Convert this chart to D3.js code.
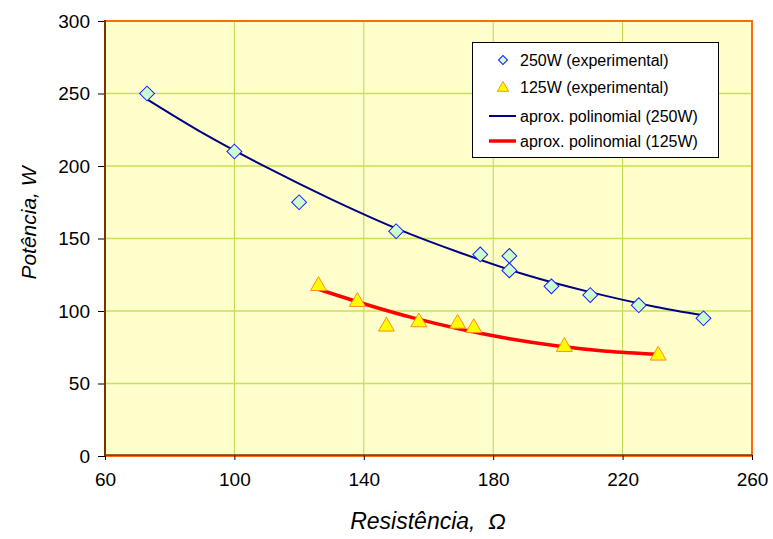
<!DOCTYPE html>
<html>
<head>
<meta charset="utf-8">
<script src="https://cdn.jsdelivr.net/npm/d3@7"></script>
<style>
  body { margin: 0; background: #fff; }
  text { font-family: "Liberation Sans", Arial, sans-serif; fill: #000; }
</style>
</head>
<body>
<svg id="chart" width="773" height="539"></svg>
<script>
// experimental points
var r250 = [73, 100, 120, 150, 176, 185, 185, 198, 210, 225, 245];
var p250 = [250, 210, 175, 155, 139, 128, 138, 117, 111, 104, 95];
var r125 = [126, 138, 147, 157, 169, 174, 202, 231];
var p125 = [118, 107, 90, 93, 92, 89, 76, 70];

// polynomial trend lines
var fitR250 = [73, 90, 110, 130, 150, 170, 190, 210, 230, 245];
var fitP250 = [246, 223, 199, 177, 157, 140, 125, 113, 103, 97];
var fitR125 = [126, 140, 155, 170, 185, 200, 215, 231];
var fitP125 = [115, 105, 95.4, 87.4, 80.9, 75.9, 72.3, 70.2];

var xTicks = [60, 100, 140, 180, 220, 260];
var yTicks = [0, 50, 100, 150, 200, 250, 300];

var legendLabels = ["250W (experimental)", "125W (experimental)",
  "aprox. polinomial (250W)", "aprox. polinomial (125W)"];

var svg = d3.select("#chart");
var pLeft = 105, pRight = 752, pTop = 21, pBottom = 456;

var x = d3.scaleLinear().domain([60, 260]).range([pLeft, pRight]);
var y = d3.scaleLinear().domain([0, 300]).range([pBottom, pTop]);

// plot background
svg.append("rect")
  .attr("x", pLeft).attr("y", pTop)
  .attr("width", pRight - pLeft).attr("height", pBottom - pTop)
  .attr("fill", "#ffffcc");

// grid
svg.selectAll(".vgrid").data(xTicks.slice(1, -1)).enter().append("line")
  .attr("x1", d => x(d)).attr("x2", d => x(d))
  .attr("y1", pTop).attr("y2", pBottom)
  .attr("stroke", "#bcd64a").attr("stroke-width", 1);
svg.selectAll(".hgrid").data(yTicks.slice(1, -1)).enter().append("line")
  .attr("x1", pLeft).attr("x2", pRight)
  .attr("y1", d => y(d)).attr("y2", d => y(d))
  .attr("stroke", "#c6e05a").attr("stroke-width", 1.5);

// border
svg.append("rect")
  .attr("x", pLeft).attr("y", pTop)
  .attr("width", pRight - pLeft).attr("height", pBottom - pTop)
  .attr("fill", "none").attr("stroke", "#ff6a10").attr("stroke-width", 2);

// axes
var xAxis = d3.axisBottom(x).tickValues(xTicks).tickSize(5).tickPadding(13);
var yAxis = d3.axisLeft(y).tickValues(yTicks).tickSize(7).tickPadding(8);

var gx = svg.append("g").attr("transform", "translate(0," + (pBottom - 1) + ")").call(xAxis);
var gy = svg.append("g").attr("transform", "translate(" + pLeft + ",0)").call(yAxis);
[gx, gy].forEach(function(g) {
  g.select(".domain").remove();
  g.selectAll(".tick line").attr("stroke", "#000");
  g.selectAll(".tick text").style("font-size", "19px")
    .style("font-family", "'Liberation Sans', Arial, sans-serif");
});
svg.append("line").attr("x1", pLeft).attr("x2", pLeft).attr("y1", pTop - 1).attr("y2", pBottom)
  .attr("stroke", "#7a3300").attr("stroke-width", 2);
svg.append("line").attr("x1", pLeft).attr("x2", pRight).attr("y1", pBottom - 1).attr("y2", pBottom - 1)
  .attr("stroke", "#7a3300").attr("stroke-width", 1.5);

// axis titles
svg.append("text")
  .attr("x", 428).attr("y", 529)
  .attr("text-anchor", "middle")
  .style("font-size", "23px").style("font-style", "italic")
  .style("white-space", "pre")
  .text("Resistência,  Ω");
svg.append("text")
  .attr("transform", "translate(36,223) rotate(-90)")
  .attr("text-anchor", "middle")
  .style("font-size", "21px").style("font-style", "italic")
  .text("Potência, W");

// trend lines
var line = d3.line().curve(d3.curveMonotoneX);
var fit250 = fitR250.map((r, i) => [x(r), y(fitP250[i])]);
var fit125 = fitR125.map((r, i) => [x(r), y(fitP125[i])]);
svg.append("path").attr("d", line(fit250))
  .attr("fill", "none").attr("stroke", "#000080").attr("stroke-width", 2);
svg.append("path").attr("d", line(fit125))
  .attr("fill", "none").attr("stroke", "#ff0000").attr("stroke-width", 3.5);

// markers
var diamond = d3.symbol().type(d3.symbolSquare).size(110);
var triangle = d3.symbol().type(d3.symbolTriangle).size(110);

svg.selectAll(".d250").data(r250).enter().append("path")
  .attr("d", diamond)
  .attr("transform", (d, i) => "translate(" + x(d) + "," + y(p250[i]) + ") rotate(45)")
  .attr("fill", "#ccffcc").attr("stroke", "#1a1aff").attr("stroke-width", 1);

svg.selectAll(".t125").data(r125).enter().append("path")
  .attr("d", triangle)
  .attr("transform", (d, i) => "translate(" + x(d) + "," + (y(p125[i]) + 1) + ")")
  .attr("fill", "#ffff00").attr("stroke", "#ff8c1a").attr("stroke-width", 1);

// legend
var lg = svg.append("g");
lg.append("rect").attr("x", 472.5).attr("y", 42.5).attr("width", 246).attr("height", 115)
  .attr("fill", "#fff").attr("stroke", "#000").attr("stroke-width", 1);
var rowsY = [60, 87, 116, 141];
lg.selectAll("text").data(legendLabels).enter().append("text")
  .attr("x", 520).attr("y", (d, i) => rowsY[i] + 6)
  .style("font-size", "16px")
  .text(d => d);
lg.append("path").attr("d", d3.symbol().type(d3.symbolSquare).size(40))
  .attr("transform", "translate(503," + rowsY[0] + ") rotate(45)")
  .attr("fill", "#ccffcc").attr("stroke", "#1a1aff");
lg.append("path").attr("d", d3.symbol().type(d3.symbolTriangle).size(55))
  .attr("transform", "translate(503," + (rowsY[1] + 1) + ")")
  .attr("fill", "#ffff00").attr("stroke", "#ff8c1a");
lg.append("line").attr("x1", 489).attr("x2", 516).attr("y1", rowsY[2]).attr("y2", rowsY[2])
  .attr("stroke", "#000080").attr("stroke-width", 2);
lg.append("line").attr("x1", 489).attr("x2", 516).attr("y1", rowsY[3]).attr("y2", rowsY[3])
  .attr("stroke", "#ff0000").attr("stroke-width", 3.5);
</script>
</body>
</html>
